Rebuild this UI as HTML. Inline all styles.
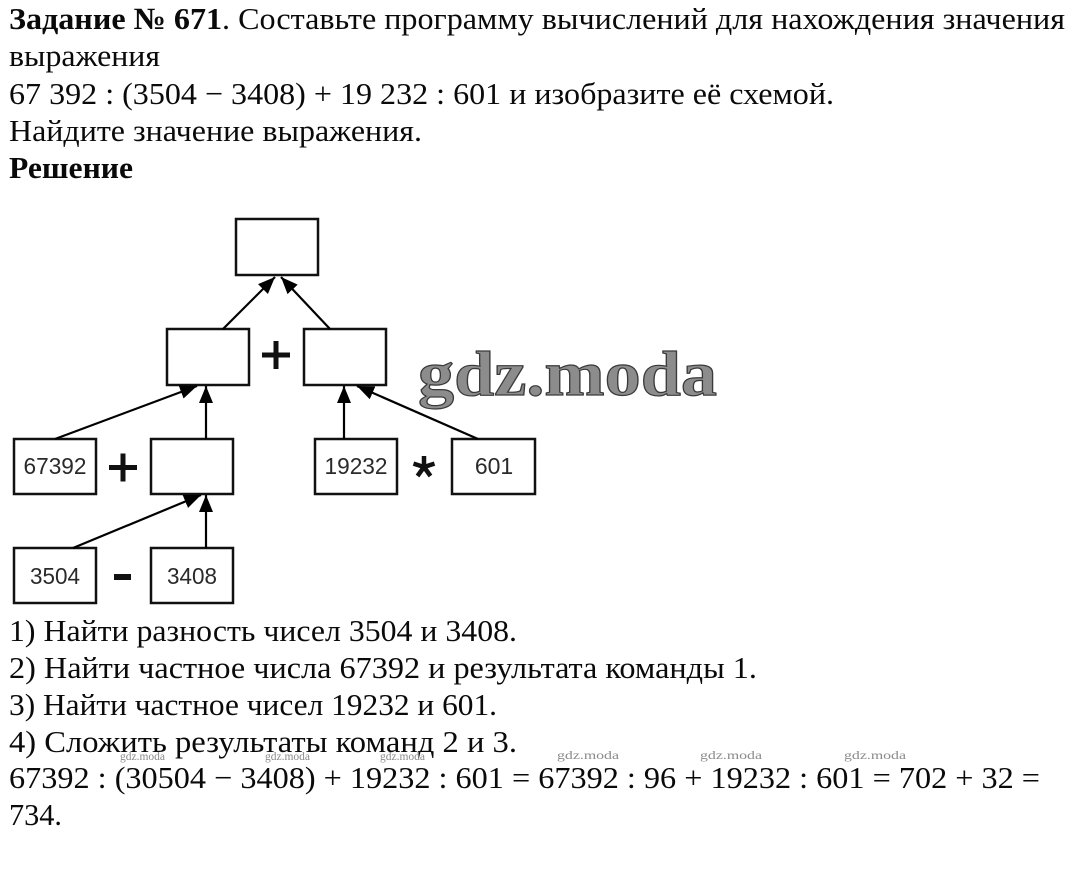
<!DOCTYPE html>
<html>
<head>
<meta charset="utf-8">
<style>
  html, body { margin: 0; padding: 0; background: #fff; }
  body { width: 1076px; height: 871px; overflow: hidden; }
  svg { display: block; }
  .t { font-family: "Liberation Serif", "Noto Serif CJK SC", serif; font-size: 31px; fill: #0a0a0a; }
  .b { font-weight: bold; }
  .lbl { font-family: "Liberation Sans", Arial, sans-serif; font-size: 23px; fill: #2a2a2a; }
  .wm { font-family: "Liberation Serif", serif; font-size: 12px; fill: #8a8a8a; }
</style>
</head>
<body>
<svg width="1076" height="871" viewBox="0 0 1076 871" xmlns="http://www.w3.org/2000/svg">
  <defs>
    <marker id="ah" markerUnits="userSpaceOnUse" markerWidth="18" markerHeight="15" refX="17" refY="7" orient="auto">
      <path d="M0,0 L17,7 L0,14 z" fill="#000"/>
    </marker>
  </defs>

  <!-- Header text -->
  <text class="t" x="9" y="29" textLength="1056" lengthAdjust="spacingAndGlyphs"><tspan class="b">Задание № 671</tspan>. Составьте программу вычислений для нахождения значения</text>
  <text class="t" x="9" y="66" textLength="151" lengthAdjust="spacingAndGlyphs">выражения</text>
  <text class="t" x="9" y="104" textLength="825" lengthAdjust="spacingAndGlyphs">67 392 : (3504 − 3408) + 19 232 : 601 и изобразите её схемой.</text>
  <text class="t" x="9" y="141" textLength="413" lengthAdjust="spacingAndGlyphs">Найдите значение выражения.</text>
  <text class="t b" x="9" y="178" textLength="124" lengthAdjust="spacingAndGlyphs">Решение</text>

  <!-- Diagram boxes -->
  <g fill="#fff" stroke="#111" stroke-width="2.5">
    <rect x="236" y="219" width="82" height="56"/>
    <rect x="167" y="329" width="82" height="56"/>
    <rect x="304" y="329" width="82" height="56"/>
    <rect x="14" y="439" width="82" height="55"/>
    <rect x="151" y="439" width="82" height="55"/>
    <rect x="315" y="439" width="82" height="55"/>
    <rect x="452" y="439" width="83" height="55"/>
    <rect x="14" y="548" width="82" height="55"/>
    <rect x="151" y="548" width="82" height="55"/>
  </g>

  <!-- Box labels -->
  <text class="lbl" x="55" y="474" text-anchor="middle" textLength="63" lengthAdjust="spacingAndGlyphs">67392</text>
  <text class="lbl" x="356" y="474" text-anchor="middle" textLength="63" lengthAdjust="spacingAndGlyphs">19232</text>
  <text class="lbl" x="494" y="474" text-anchor="middle">601</text>
  <text class="lbl" x="55" y="584" text-anchor="middle" textLength="50" lengthAdjust="spacingAndGlyphs">3504</text>
  <text class="lbl" x="192" y="584" text-anchor="middle" textLength="50" lengthAdjust="spacingAndGlyphs">3408</text>

  <!-- Operators -->
  <g fill="#111">
    <rect x="262" y="352.5" width="28" height="5"/>
    <rect x="273.5" y="341" width="5" height="28"/>
    <rect x="109" y="465" width="28" height="5"/>
    <rect x="120.5" y="453.5" width="5" height="28"/>
    <rect x="114" y="574" width="17" height="6"/>
  </g>
  <g stroke="#111" stroke-width="4.5" stroke-linecap="butt">
    <line x1="424" y1="467" x2="424" y2="456"/>
    <line x1="424" y1="467" x2="434.5" y2="463.6"/>
    <line x1="424" y1="467" x2="413.5" y2="463.6"/>
    <line x1="424" y1="467" x2="430.5" y2="476"/>
    <line x1="424" y1="467" x2="417.5" y2="476"/>
  </g>

  <!-- Arrows -->
  <g stroke="#000" stroke-width="2.2" fill="none" marker-end="url(#ah)">
    <line x1="223" y1="329" x2="275" y2="277"/>
    <line x1="330" y1="329" x2="281" y2="277"/>
    <line x1="55" y1="439" x2="197" y2="386"/>
    <line x1="206" y1="439" x2="206" y2="386"/>
    <line x1="344" y1="439" x2="344" y2="386"/>
    <line x1="478" y1="439" x2="357" y2="386"/>
    <line x1="73" y1="548" x2="201" y2="495"/>
    <line x1="206" y1="548" x2="206" y2="495"/>
  </g>

  <!-- Big watermark -->
  <text x="418" y="395" textLength="299" lengthAdjust="spacingAndGlyphs"
        style="font-family:'Liberation Serif',serif;font-weight:bold;font-size:64px;fill:#8c8c8c;stroke:#3a3a3a;stroke-width:1.2px;">gdz.moda</text>

  <!-- Solution lines -->
  <text class="t" x="9" y="641" textLength="508" lengthAdjust="spacingAndGlyphs">1) Найти разность чисел 3504 и 3408.</text>
  <text class="t" x="9" y="678" textLength="748" lengthAdjust="spacingAndGlyphs">2) Найти частное числа 67392 и результата команды 1.</text>
  <text class="t" x="9" y="715" textLength="488" lengthAdjust="spacingAndGlyphs">3) Найти частное чисел 19232 и 601.</text>
  <text class="t" x="9" y="752" textLength="508" lengthAdjust="spacingAndGlyphs">4) Сложить результаты команд 2 и 3.</text>
  <text class="t" x="9" y="788" textLength="1031" lengthAdjust="spacingAndGlyphs">67392 : (30504 − 3408) + 19232 : 601 = 67392 : 96 + 19232 : 601 = 702 + 32 =</text>
  <text class="t" x="9" y="825" textLength="53" lengthAdjust="spacingAndGlyphs">734.</text>

  <!-- Small watermarks -->
  <text class="wm" x="120" y="760" textLength="45" lengthAdjust="spacingAndGlyphs">gdz.moda</text>
  <text class="wm" x="265" y="760" textLength="45" lengthAdjust="spacingAndGlyphs">gdz.moda</text>
  <text class="wm" x="380" y="760" textLength="45" lengthAdjust="spacingAndGlyphs">gdz.moda</text>
  <text class="wm" x="557" y="759" textLength="62" lengthAdjust="spacingAndGlyphs">gdz.moda</text>
  <text class="wm" x="700" y="759" textLength="62" lengthAdjust="spacingAndGlyphs">gdz.moda</text>
  <text class="wm" x="844" y="759" textLength="62" lengthAdjust="spacingAndGlyphs">gdz.moda</text>
</svg>
</body>
</html>
